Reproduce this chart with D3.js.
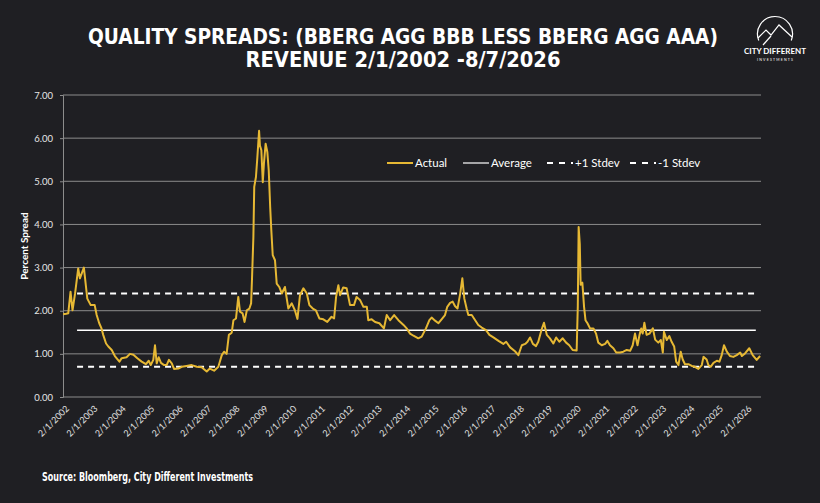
<!DOCTYPE html>
<html>
<head>
<meta charset="utf-8">
<script src="https://cdn.jsdelivr.net/npm/d3@7"></script>
<style>
  html, body { margin: 0; padding: 0; background: #1f1f23; }
  svg { display: block; }
</style>
</head>
<body>
<svg id="chart" width="820" height="503"></svg>
<script>
// spread observations: [decimal year, percent]
var actual = [
  [2002.09,1.92],[2002.20,1.93],[2002.27,1.94],[2002.35,2.44],[2002.42,2.01],[2002.51,2.40],
  [2002.62,2.98],[2002.68,2.75],[2002.82,3.00],[2002.94,2.28],[2003.06,2.13],[2003.20,2.13],
  [2003.27,1.90],[2003.36,1.71],[2003.44,1.59],[2003.50,1.44],[2003.60,1.24],[2003.68,1.17],
  [2003.80,1.09],[2003.91,0.95],[2004.07,0.82],[2004.15,0.90],[2004.32,0.92],[2004.44,1.00],
  [2004.56,0.98],[2004.70,0.90],[2004.85,0.82],[2005.00,0.76],[2005.10,0.84],[2005.17,0.74],
  [2005.26,0.86],[2005.32,1.20],[2005.38,0.78],[2005.45,0.92],[2005.53,0.79],[2005.64,0.74],
  [2005.73,0.74],[2005.81,0.86],[2005.91,0.78],[2005.99,0.65],[2006.14,0.66],[2006.26,0.70],
  [2006.43,0.72],[2006.61,0.74],[2006.79,0.70],[2006.96,0.69],[2007.14,0.59],[2007.25,0.66],
  [2007.40,0.61],[2007.55,0.70],[2007.67,0.97],[2007.75,1.05],[2007.84,1.00],[2007.92,1.44],
  [2008.02,1.49],[2008.08,1.78],[2008.17,1.82],[2008.25,2.32],[2008.31,1.98],[2008.40,1.94],
  [2008.47,1.74],[2008.55,2.01],[2008.64,2.05],[2008.70,2.17],[2008.73,2.71],[2008.78,3.71],
  [2008.81,4.87],[2008.87,5.10],[2008.92,5.56],[2008.98,6.17],[2009.01,5.83],[2009.06,5.72],
  [2009.11,4.98],[2009.15,5.41],[2009.21,5.87],[2009.27,5.68],[2009.32,5.25],[2009.37,4.41],
  [2009.41,3.87],[2009.46,3.29],[2009.54,3.17],[2009.60,2.63],[2009.69,2.55],[2009.78,2.40],
  [2009.89,2.55],[2010.01,2.05],[2010.13,2.17],[2010.24,2.01],[2010.33,1.81],[2010.42,2.36],
  [2010.54,2.52],[2010.66,2.40],[2010.75,2.13],[2010.87,2.05],[2010.98,2.01],[2011.10,1.82],
  [2011.24,1.80],[2011.38,1.74],[2011.53,1.86],[2011.62,1.82],[2011.69,2.32],[2011.77,2.59],
  [2011.83,2.36],[2011.94,2.54],[2012.06,2.52],[2012.18,2.13],[2012.32,2.13],[2012.41,2.32],
  [2012.53,2.25],[2012.65,2.09],[2012.77,2.09],[2012.82,1.78],[2012.94,1.80],[2013.06,1.74],
  [2013.21,1.71],[2013.37,1.59],[2013.47,1.90],[2013.59,1.78],[2013.73,1.90],[2013.88,1.78],
  [2014.06,1.67],[2014.17,1.59],[2014.29,1.47],[2014.41,1.42],[2014.58,1.36],[2014.70,1.40],
  [2014.85,1.59],[2014.97,1.78],[2015.05,1.84],[2015.17,1.77],[2015.29,1.71],[2015.40,1.80],
  [2015.52,1.90],[2015.60,2.09],[2015.70,2.18],[2015.79,2.21],[2015.87,2.11],[2015.96,2.05],
  [2016.05,2.38],[2016.13,2.75],[2016.20,2.28],[2016.28,2.05],[2016.34,1.90],[2016.46,1.90],
  [2016.58,1.78],[2016.69,1.67],[2016.81,1.61],[2016.96,1.55],[2017.08,1.44],[2017.22,1.38],
  [2017.40,1.30],[2017.57,1.23],[2017.67,1.28],[2017.81,1.15],[2017.98,1.06],[2018.10,0.97],
  [2018.22,1.20],[2018.34,1.23],[2018.42,1.28],[2018.51,1.38],[2018.61,1.23],[2018.72,1.18],
  [2018.80,1.28],[2018.92,1.57],[2019.00,1.72],[2019.10,1.44],[2019.21,1.36],[2019.33,1.24],
  [2019.43,1.38],[2019.54,1.28],[2019.66,1.36],[2019.78,1.26],[2019.89,1.20],[2020.01,1.09],
  [2020.15,1.08],[2020.19,2.10],[2020.22,3.94],[2020.26,3.55],[2020.29,2.60],[2020.35,2.65],
  [2020.41,2.09],[2020.46,1.78],[2020.53,1.71],[2020.62,1.59],[2020.74,1.59],[2020.83,1.47],
  [2020.91,1.26],[2021.03,1.20],[2021.15,1.23],[2021.23,1.30],[2021.32,1.20],[2021.44,1.13],
  [2021.54,1.03],[2021.68,1.03],[2021.79,1.05],[2021.91,1.09],[2022.03,1.07],[2022.12,1.20],
  [2022.20,1.47],[2022.29,1.20],[2022.36,1.44],[2022.42,1.59],[2022.47,1.47],[2022.53,1.72],
  [2022.61,1.44],[2022.71,1.47],[2022.83,1.59],[2022.91,1.33],[2023.02,1.26],[2023.11,1.32],
  [2023.18,1.03],[2023.22,1.51],[2023.32,1.32],[2023.41,1.41],[2023.49,1.28],[2023.58,1.17],
  [2023.65,0.82],[2023.73,0.74],[2023.81,1.05],[2023.88,0.87],[2023.96,0.76],[2024.08,0.76],
  [2024.20,0.72],[2024.31,0.70],[2024.43,0.65],[2024.55,0.74],[2024.61,0.93],[2024.72,0.87],
  [2024.78,0.74],[2024.86,0.70],[2024.96,0.79],[2025.08,0.84],[2025.17,0.82],[2025.25,0.97],
  [2025.33,1.20],[2025.43,1.05],[2025.54,0.95],[2025.66,0.93],[2025.78,0.97],[2025.90,1.03],
  [2025.96,0.95],[2026.07,1.01],[2026.22,1.13],[2026.34,0.97],[2026.48,0.86],[2026.60,0.95]
];

var averageLevel = 1.55;
var plusStdev = 2.40;
var minusStdev = 0.70;
var refSpan = [2002.58, 2026.45];          // span of the reference lines
var tickYears = d3.range(2002, 2027);       // 2/1 of each year
var yTicks = [0, 1, 2, 3, 4, 5, 6, 7];
var legendItems = ["Actual", "Average", "+1 Stdev", "-1 Stdev"];

var GOLD = "#e6b834", GRID = "#8c8c8c", BG = "#1f1f23";
var LABEL_FONT = "Lato, 'Noto Sans', sans-serif";
var TITLE_FONT = "'Liberation Sans Narrow', 'DejaVu Sans Condensed', sans-serif";

function yearToDate(y) {
    var yr = Math.floor(y);
    var a = new Date(yr, 0, 1), b = new Date(yr + 1, 0, 1);
    return new Date(+a + (y - yr) * (b - a));
}

var svg = d3.select("#chart");
svg.append("rect").attr("width", 820).attr("height", 503).attr("fill", BG);

var x = d3.scaleTime()
    .domain([new Date(2002, 1, 1), new Date(2026, 7, 7)])
    .range([63, 760]);
var y = d3.scaleLinear().domain([0, 7]).range([397, 95]);

// gridlines
svg.append("g").selectAll("line").data(yTicks.slice(1)).enter().append("line")
    .attr("x1", 63).attr("x2", 761)
    .attr("y1", function (d) { return y(d); })
    .attr("y2", function (d) { return y(d); })
    .attr("stroke", GRID).attr("stroke-width", 1);

// y axis
var yAxis = svg.append("g").attr("transform", "translate(63,0)")
    .call(d3.axisLeft(y).tickValues(yTicks).tickFormat(d3.format(".2f")).tickSize(3).tickPadding(7));
yAxis.select(".domain").attr("stroke", GRID);
yAxis.selectAll(".tick line").attr("stroke", GRID);
yAxis.selectAll("text").attr("fill", "#e6e6e6").style("font-family", LABEL_FONT).style("font-size", "9.5px");

// x axis
var xAxis = svg.append("g").attr("transform", "translate(0,397)")
    .call(d3.axisBottom(x)
        .tickValues(tickYears.map(function (d) { return new Date(d, 1, 1); }))
        .tickFormat(d3.timeFormat("%-m/%-d/%Y"))
        .tickSize(0).tickPadding(0));
xAxis.select(".domain").attr("stroke", GRID).attr("d", "M63,0H761");
xAxis.selectAll("text")
    .attr("fill", "#e0e0e0").style("font-family", LABEL_FONT).style("font-size", "9px")
    .attr("text-anchor", "end")
    .attr("transform", "translate(4,10) rotate(-45)")
    .attr("dy", "0.35em");

svg.append("text")
    .attr("transform", "translate(28,246) rotate(-90)")
    .attr("text-anchor", "middle")
    .attr("fill", "#fff").style("font-family", LABEL_FONT).style("font-weight", "bold").style("font-size", "10px")
    .text("Percent Spread");

// reference lines
var refs = [
    {v: averageLevel, dash: null, w: 1.5},
    {v: plusStdev, dash: "6,5", w: 2},
    {v: minusStdev, dash: "6,5", w: 2}
];
svg.append("g").selectAll("line").data(refs).enter().append("line")
    .attr("x1", x(yearToDate(refSpan[0]))).attr("x2", x(yearToDate(refSpan[1])))
    .attr("y1", function (d) { return y(d.v); })
    .attr("y2", function (d) { return y(d.v); })
    .attr("stroke", "#fff").attr("stroke-width", function (d) { return d.w; })
    .attr("stroke-dasharray", function (d) { return d.dash; });

// actual series
var line = d3.line()
    .x(function (d) { return x(yearToDate(d[0])); })
    .y(function (d) { return y(d[1]); });
svg.append("path").datum(actual)
    .attr("d", line).attr("fill", "none")
    .attr("stroke", GOLD).attr("stroke-width", 2).attr("stroke-linejoin", "round");

// legend
var legendX = [387, 463, 547, 630];
var lg = svg.append("g").selectAll("g").data(legendItems).enter().append("g")
    .attr("transform", function (d, i) { return "translate(" + legendX[i] + ",163)"; });
lg.append("line")
    .attr("x1", 0).attr("x2", 26).attr("y1", 0).attr("y2", 0)
    .attr("stroke", function (d, i) { return i === 0 ? GOLD : "#fff"; })
    .attr("stroke-width", function (d, i) { return i === 0 ? 2 : (i === 1 ? 1.2 : 2); })
    .attr("stroke-dasharray", function (d, i) { return i > 1 ? "6,6" : null; });
lg.append("text")
    .attr("x", 28).attr("y", 4)
    .attr("fill", "#fff").style("font-family", LABEL_FONT).style("font-size", "11.5px")
    .text(function (d) { return d; });

// titles
svg.append("text").attr("x", 403).attr("y", 44).attr("text-anchor", "middle")
    .attr("fill", "#fff").style("font-family", TITLE_FONT).style("font-weight", "bold").style("font-size", "22px")
    .attr("textLength", 630).attr("lengthAdjust", "spacingAndGlyphs")
    .text("QUALITY SPREADS: (BBERG AGG BBB LESS BBERG AGG AAA)");
svg.append("text").attr("x", 403).attr("y", 67).attr("text-anchor", "middle")
    .attr("fill", "#fff").style("font-family", TITLE_FONT).style("font-weight", "bold").style("font-size", "21px")
    .attr("textLength", 315).attr("lengthAdjust", "spacingAndGlyphs")
    .text("REVENUE 2/1/2002 -8/7/2026");

svg.append("text").attr("x", 42).attr("y", 481)
    .attr("fill", "#fff").style("font-family", TITLE_FONT).style("font-weight", "bold").style("font-size", "11.5px")
    .attr("textLength", 211).attr("lengthAdjust", "spacingAndGlyphs")
    .text("Source: Bloomberg, City Different Investments");

// logo
var logo = svg.append("g").attr("fill", "none").attr("stroke", "#fff").attr("stroke-width", 1.2);
var arc = d3.arc().innerRadius(17.5).outerRadius(17.5).startAngle(-1.95).endAngle(1.95);
logo.append("path").attr("d", arc()).attr("transform", "translate(775,34)");
logo.append("path").attr("d", "M758,38 L766,30 L771,35 L779,25 L792,37");
logo.append("path").attr("d", "M763,45 L771,36");
svg.append("text").attr("x", 775).attr("y", 54).attr("text-anchor", "middle")
    .attr("fill", "#fff").style("font-family", LABEL_FONT).style("font-weight", "bold").style("font-size", "6.5px")
    .attr("textLength", 62).attr("lengthAdjust", "spacingAndGlyphs")
    .text("CITY DIFFERENT");
svg.append("text").attr("x", 775).attr("y", 61).attr("text-anchor", "middle")
    .attr("fill", "#fff").style("font-family", LABEL_FONT).style("font-size", "3.5px")
    .attr("textLength", 36).attr("lengthAdjust", "spacing")
    .text("INVESTMENTS");
</script>
</body>
</html>
